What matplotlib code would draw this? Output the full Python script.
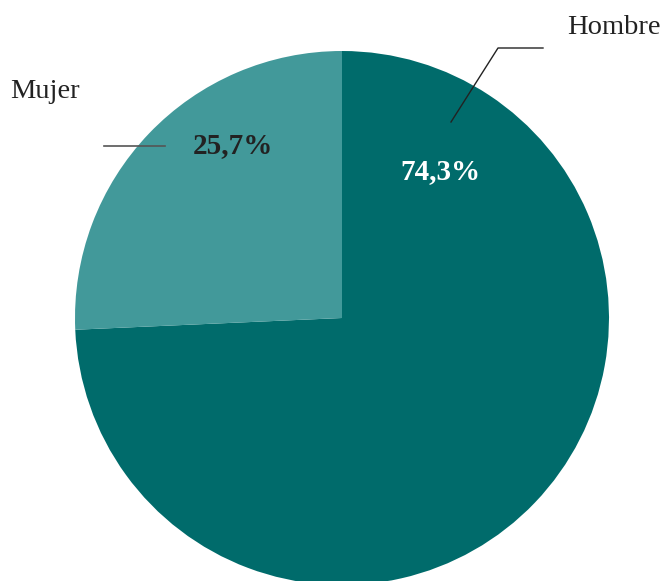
import matplotlib
matplotlib.use('Agg')
import matplotlib.pyplot as plt

labels = ['Hombre', 'Mujer']
values = [74.3, 25.7]
pct_text = ['74,3%', '25,7%']
colors = ['#006b6b', '#42999a']

plt.rcParams['font.family'] = ['Liberation Serif', 'DejaVu Serif']

fig = plt.figure(figsize=(6.63, 5.81), dpi=100)
ax = fig.add_axes([0, 0, 1, 1])

# pie in pixel-like coords (y up)
ax.pie(values, colors=colors, startangle=90, counterclock=False,
       center=(342, 263), radius=267, wedgeprops=dict(linewidth=0))
ax.set_xlim(0, 663)
ax.set_ylim(0, 581)
ax.set_aspect('equal')
ax.axis('off')

# value labels
ax.text(440, 409, pct_text[0], color='white', fontsize=21, fontweight='bold',
        ha='center', va='center')
ax.text(233, 435, pct_text[1], color='#222222', fontsize=21, fontweight='bold',
        ha='center', va='center')

# category labels with leader lines
ax.plot([451, 498, 543], [459, 533, 533], color='#222222', linewidth=1)
ax.text(614, 553, labels[0], color='#222222', fontsize=20.5, ha='center', va='center')
ax.plot([104, 165], [435, 435], color='#555555', linewidth=1.2)
ax.text(45, 489, labels[1], color='#222222', fontsize=20.5, ha='center', va='center')

fig.savefig('out.png', dpi=100)
